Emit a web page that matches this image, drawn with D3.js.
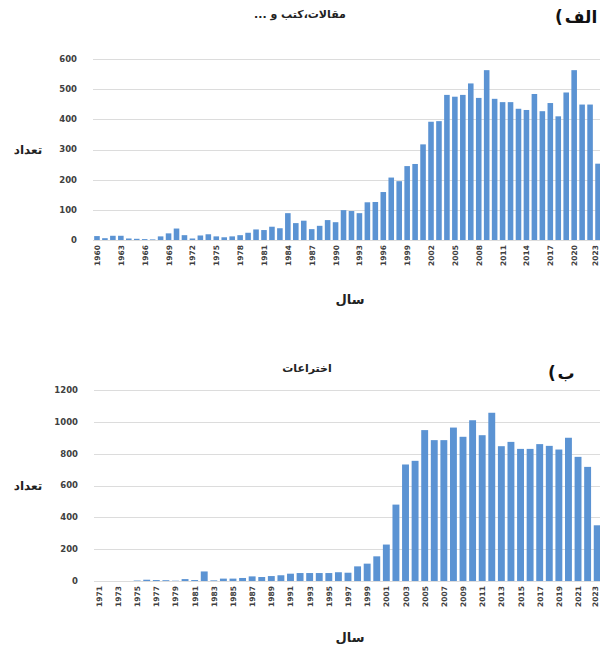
<!DOCTYPE html>
<html>
<head>
<meta charset="utf-8">
<script src="https://cdn.jsdelivr.net/npm/d3@7"></script>
<style>
  html, body { margin: 0; padding: 0; background: #fff; }
  svg { display: block; }
  text { font-family: "DejaVu Sans", "Noto Sans", sans-serif; }
  .rtl { direction: rtl; unicode-bidi: embed; }
</style>
</head>
<body>
<svg id="chart" width="600" height="652"></svg>
<script>
// ---------- Data ----------
const yearsA = d3.range(1960, 2024);
const valuesA = [
  13, 6, 14, 14, 5, 4, 3, 2, 12, 22,
  38, 16, 5, 15, 19, 12, 9, 12, 16, 24,
  35, 33, 44, 39, 89, 56, 64, 36, 47, 66,
  59, 99, 96, 89, 125, 126, 159, 207, 195, 245,
  252, 317, 392, 394, 481, 475, 481, 519, 471, 563,
  468, 457, 457, 435, 431, 484, 427, 454, 410, 489,
  563, 449, 449, 253
];
const tickYearsA = [1960,1963,1966,1969,1972,1975,1978,1981,1984,1987,1990,1993,1996,1999,2002,2005,2008,2011,2014,2017,2020,2023];
const yTicksA = [0,100,200,300,400,500,600];

const yearsB = d3.range(1971, 2024);
const valuesB = [
  0, 0, 0, 0, 3, 8, 6, 5, 2, 12,
  6, 60, 4, 15, 15, 19, 29, 25, 31, 36,
  46, 50, 50, 50, 50, 55, 52, 92, 109, 155,
  229, 480, 732, 755, 948, 885, 885, 964, 906, 1010,
  916, 1057, 847, 874, 830, 830, 860, 849, 826, 900,
  780, 717, 350
];
const tickYearsB = [1971,1973,1975,1977,1979,1981,1983,1985,1987,1989,1991,1993,1995,1997,1999,2001,2003,2005,2007,2009,2011,2013,2015,2017,2019,2021,2023];
const yTicksB = [0,200,400,600,800,1000,1200];

const titleA = "مقالات،کتب و ...";
const tagA = "الف";
const titleB = "اختراعات";
const tagB = "ب";
const yLabel = "تعداد";
const xLabel = "سال";

// ---------- Drawing ----------
const svg = d3.select("#chart");
const barColor = "#5b93d3";

function drawPanel(cfg) {
  const g = svg.append("g");
  const x = d3.scaleBand().domain(cfg.years).range([cfg.x0, cfg.x1]).paddingInner(cfg.pad).paddingOuter(cfg.pad / 2);
  const y = d3.scaleLinear().domain([0, cfg.ymax]).range([cfg.y0, cfg.y1]);

  // gridlines
  g.selectAll("line.grid").data(cfg.yTicks).enter().append("line")
    .attr("x1", cfg.x0).attr("x2", 600)
    .attr("y1", d => Math.round(y(d)) + 0.5).attr("y2", d => Math.round(y(d)) + 0.5)
    .attr("stroke", "#dcdcdc").attr("stroke-width", 1);

  // y tick labels
  g.selectAll("text.ytick").data(cfg.yTicks).enter().append("text")
    .attr("x", cfg.x0 - 16).attr("y", d => y(d)).attr("dy", "0.35em")
    .attr("text-anchor", "end").attr("font-size", 8.5).attr("font-weight", "bold")
    .attr("fill", "#404040").text(d => d);

  // bars
  g.selectAll("rect.bar").data(cfg.values).enter().append("rect")
    .attr("x", (d, i) => x(cfg.years[i]))
    .attr("width", x.bandwidth())
    .attr("y", d => y(d))
    .attr("height", d => cfg.y0 - y(d))
    .attr("fill", barColor);

  // x tick labels (rotated)
  g.selectAll("text.xtick").data(cfg.tickYears).enter().append("text")
    .attr("transform", d => `translate(${Math.min(x(d) + x.bandwidth() / 2 + 3, 598)},${cfg.y0 + 5}) rotate(-90)`)
    .attr("text-anchor", "end").attr("font-size", 7.5).attr("font-weight", "bold")
    .attr("fill", "#404040").text(d => d);

  // titles
  g.append("text").attr("class", "rtl").attr("x", cfg.titleX).attr("y", cfg.titleY)
    .attr("text-anchor", "middle").attr("font-size", 11).attr("font-weight", "bold")
    .attr("fill", "#222").text(cfg.title);
  // panel tag: parenthesis drawn separately on the left, word to its right
  g.append("text").attr("x", cfg.parenX).attr("y", cfg.tagY)
    .attr("text-anchor", "middle").attr("font-size", cfg.tagSize).attr("font-weight", "bold")
    .attr("fill", "#111").text("(");
  g.append("text").attr("x", cfg.tagX).attr("y", cfg.tagY)
    .attr("text-anchor", "middle").attr("font-size", cfg.tagSize).attr("font-weight", "bold")
    .attr("fill", "#111").text(cfg.tag);

  // axis labels
  g.append("text").attr("class", "rtl").attr("x", 28).attr("y", (cfg.y0 + cfg.y1) / 2 + 4)
    .attr("text-anchor", "middle").attr("font-size", 12).attr("font-weight", "bold")
    .attr("fill", "#222").text(yLabel);
  g.append("text").attr("class", "rtl").attr("x", 350).attr("y", cfg.xLabelY)
    .attr("text-anchor", "middle").attr("font-size", 13).attr("font-weight", "bold")
    .attr("fill", "#222").text(xLabel);
}

drawPanel({
  years: yearsA, values: valuesA, tickYears: tickYearsA, yTicks: yTicksA, ymax: 600,
  x0: 93, x1: 602, y0: 240, y1: 59, pad: 0.3,
  title: titleA, titleX: 300, titleY: 18, tag: tagA, tagX: 581, parenX: 559, tagY: 23, tagSize: 17,
  xLabelY: 304
});

drawPanel({
  years: yearsB, values: valuesB, tickYears: tickYearsB, yTicks: yTicksB, ymax: 1200,
  x0: 94, x1: 602, y0: 581, y1: 390, pad: 0.28,
  title: titleB, titleX: 307, titleY: 372, tag: tagB, tagX: 566, parenX: 552, tagY: 379, tagSize: 17,
  xLabelY: 642
});
</script>
</body>
</html>
